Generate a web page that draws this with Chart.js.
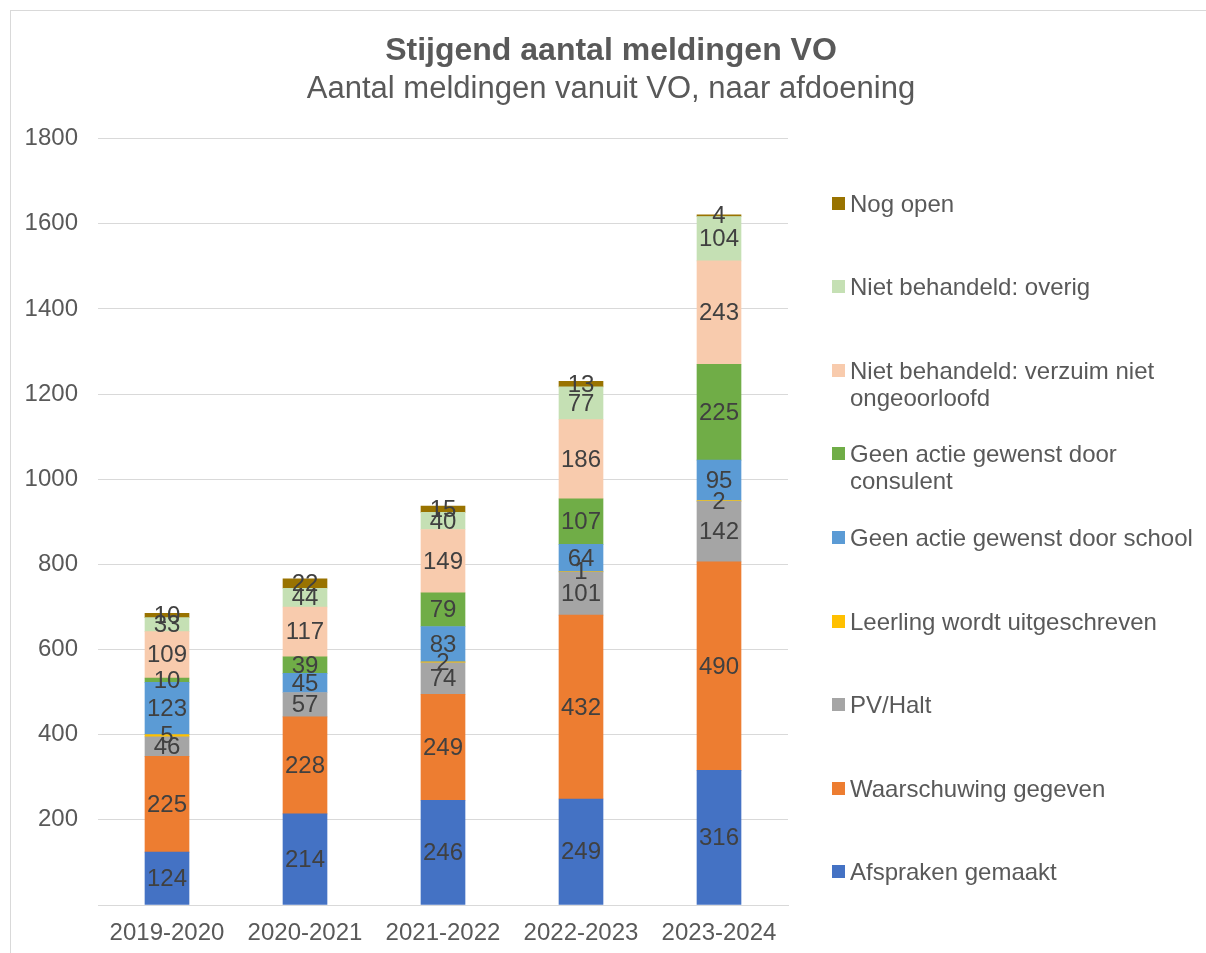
<!DOCTYPE html>
<html>
<head>
<meta charset="utf-8">
<script src="https://cdn.jsdelivr.net/npm/chart.js@4"></script>
<style>
  html, body { margin: 0; padding: 0; background: #fff; overflow: hidden; }
  body { width: 1206px; height: 953px; position: relative; font-family: "Liberation Sans", Arial, sans-serif; }
  #frame { position: absolute; left: 10px; top: 10px; width: 1202px; height: 960px; border: 1px solid #d9d9d9; box-sizing: border-box; }
  #wrap { position: absolute; left: 10px; top: 10px; width: 1202px; height: 943px; }
  #legend { position: absolute; left: 0; top: 0; }
  .item { position: absolute; left: 832px; width: 374px; font-size: 24px; line-height: 27px; color: #595959; }
  .item .box { position: absolute; left: 0; top: 7px; width: 13px; height: 13px; }
  .item .txt { margin-left: 18px; width: 350px; }
</style>
</head>
<body>
<div id="frame"></div>
<div id="wrap"><canvas id="meldingen"></canvas></div>
<div id="legend"></div>
<script>
const years = ["2019-2020", "2020-2021", "2021-2022", "2022-2023", "2023-2024"];

const afsprakenGemaakt = [124, 214, 246, 249, 316];
const waarschuwingGegeven = [225, 228, 249, 432, 490];
const pvHalt = [46, 57, 74, 101, 142];
const leerlingUitgeschreven = [5, null, 2, 1, 2];
const geenActieSchool = [123, 45, 83, 64, 95];
const geenActieConsulent = [10, 39, 79, 107, 225];
const nietBehandeldVerzuim = [109, 117, 149, 186, 243];
const nietBehandeldOverig = [33, 44, 40, 77, 104];
const nogOpen = [10, 22, 15, 13, 4];

const yTicks = [0, 200, 400, 600, 800, 1000, 1200, 1400, 1600, 1800];

const series = [
    { label: "Afspraken gemaakt", data: afsprakenGemaakt, color: "#4472C4" },
    { label: "Waarschuwing gegeven", data: waarschuwingGegeven, color: "#ED7D31" },
    { label: "PV/Halt", data: pvHalt, color: "#A5A5A5" },
    { label: "Leerling wordt uitgeschreven", data: leerlingUitgeschreven, color: "#FFC000" },
    { label: "Geen actie gewenst door school", data: geenActieSchool, color: "#5B9BD5" },
    { label: "Geen actie gewenst door consulent", data: geenActieConsulent, color: "#70AD47" },
    { label: "Niet behandeld: verzuim niet ongeoorloofd", data: nietBehandeldVerzuim, color: "#F8CBAD" },
    { label: "Niet behandeld: overig", data: nietBehandeldOverig, color: "#C5E0B4" },
    { label: "Nog open", data: nogOpen, color: "#997300" },
];

const font = "'Liberation Sans', Arial, sans-serif";

// value labels in the middle of every segment
const segmentLabels = {
    id: "segmentLabels",
    afterDatasetsDraw(chart) {
        const ctx = chart.ctx;
        ctx.save();
        ctx.font = "24px " + font;
        ctx.fillStyle = "#404040";
        ctx.textAlign = "center";
        ctx.textBaseline = "middle";
        chart.data.datasets.forEach((ds, i) => {
            chart.getDatasetMeta(i).data.forEach((bar, j) => {
                const v = ds.data[j];
                if (v == null || v === 0) return;
                ctx.fillText(String(v), bar.x, (bar.y + bar.base) / 2 + 1);
            });
        });
        ctx.restore();
    },
};

const ctx = document.getElementById("meldingen").getContext("2d");

new Chart(ctx, {
    type: "bar",
    data: {
        labels: years,
        datasets: series.map(s => ({
            label: s.label,
            data: s.data,
            backgroundColor: s.color,
            borderWidth: 0,
            barThickness: 44,
        })),
    },
    options: {
        responsive: true,
        maintainAspectRatio: false,
        animation: false,
        layout: { padding: { left: 0, right: 0, top: 0, bottom: 6 } },
        plugins: {
            legend: { display: false },
            tooltip: { enabled: false },
            title: {
                display: true,
                text: "Stijgend aantal meldingen VO",
                color: "#595959",
                font: { family: font, size: 32, weight: "bold" },
                padding: { top: 22, bottom: 0 },
            },
            subtitle: {
                display: true,
                text: "Aantal meldingen vanuit VO, naar afdoening",
                color: "#595959",
                font: { family: font, size: 31 },
                padding: { top: 0, bottom: 31 },
            },
        },
        scales: {
            x: {
                stacked: true,
                afterFit(scale) { scale.height = 42; },
                grid: { display: false, drawTicks: false },
                border: { display: true, color: "#d9d9d9", width: 1 },
                ticks: {
                    color: "#595959",
                    padding: 14,
                    maxRotation: 0,
                    font: { family: font, size: 24 },
                },
            },
            y: {
                stacked: true,
                min: yTicks[0],
                max: yTicks[yTicks.length - 1],
                afterFit(scale) { scale.width = 88; },
                afterBuildTicks(scale) { scale.ticks = yTicks.map(v => ({ value: v })); },
                grid: { color: "#d9d9d9", lineWidth: 1, drawTicks: false },
                border: { display: false },
                ticks: {
                    color: "#595959",
                    padding: 20,
                    font: { family: font, size: 24 },
                    callback: v => (v === 0 ? "" : v),
                },
            },
            // empty right-hand axis that keeps room for the legend
            legendSpace: {
                position: "right",
                display: true,
                afterFit(scale) { scale.width = 424; },
                grid: { display: false, drawTicks: false },
                border: { display: false },
                ticks: { display: false },
            },
        },
    },
    plugins: [segmentLabels],
});

// legend on the right, top entry first
const legend = document.getElementById("legend");
series.slice().reverse().forEach((s, i) => {
    const item = document.createElement("div");
    item.className = "item";
    item.style.top = (203 + i * 83.6 - 13.5) + "px";
    const box = document.createElement("div");
    box.className = "box";
    box.style.background = s.color;
    const txt = document.createElement("div");
    txt.className = "txt";
    txt.textContent = s.label;
    item.appendChild(box);
    item.appendChild(txt);
    legend.appendChild(item);
});
</script>
</body>
</html>
